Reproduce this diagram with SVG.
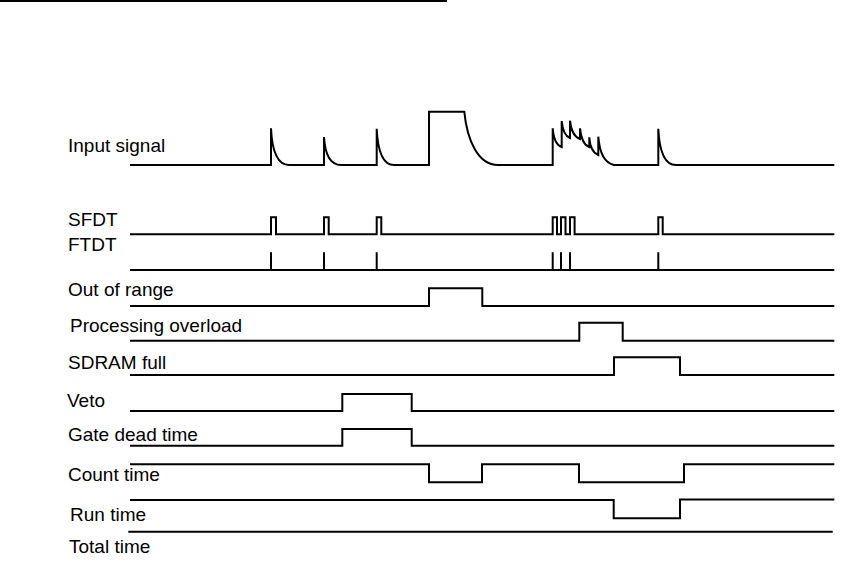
<svg xmlns="http://www.w3.org/2000/svg" width="850" height="567" viewBox="0 0 850 567">
<style>
.lbl{font-family:"Liberation Sans",Arial,sans-serif;font-size:19px;fill:#000}
.tr{fill:none;stroke:#000;stroke-width:2;stroke-linejoin:miter}
</style>
<rect width="850" height="567" fill="#fff"/>
<line x1="0" y1="1" x2="447" y2="1" stroke="#000" stroke-width="2"/>
<g id="labels">
<text class="lbl" x="68" y="152">Input signal</text>
<text class="lbl" x="68" y="226">SFDT</text>
<text class="lbl" x="68" y="251">FTDT</text>
<text class="lbl" x="68" y="296">Out of range</text>
<text class="lbl" x="70" y="332">Processing overload</text>
<text class="lbl" x="68" y="369">SDRAM full</text>
<text class="lbl" x="67" y="407">Veto</text>
<text class="lbl" x="68" y="441">Gate dead time</text>
<text class="lbl" x="68" y="481">Count time</text>
<text class="lbl" x="70" y="521">Run time</text>
<text class="lbl" x="69" y="553">Total time</text>
</g>
<g id="traces">
<g id="input-signal"><path class="tr" d="M130,165 H271 V128.3 C272,150 277,165 289,165 H324 V137 C325,153 329,165 341,165 H376.7 V128.7 C377.7,150 382,165 394,165 H429 V111.7 H464.3 C467,140 478,165 498,165 H552.7 V128.3 C553.5,138 556,145 561.7,147 V121 C562.5,130 565,136 570,138 V120.7 C571,130 574,137 580,139 V128.3 C581,138 584,145 589.3,147 V137.3 C590,147 593,153 598.3,155 V136.7 C599.5,152 604,163 614,165 H658.3 V128.7 C659.3,150 664,165 676,165 H834.3"/></g>
<g id="sfdt"><path class="tr" d="M130,234.3 H271 V217.3 H276 V234.3 H324 V217.3 H328.7 V234.3 H376.7 V217.3 H381.3 V234.3 H552.7 V217.3 H557 V234.3 H561 V217.3 H565.5 V234.3 H570 V217.3 H574.6 V234.3 H658.3 V217.3 H662.7 V234.3 H834.3"/></g>
<g id="ftdt"><path class="tr" d="M130,270 H834.3 M271,252.3 V270 M324,252.3 V270 M376.7,252.3 V270 M552.7,252.3 V270 M561,252.3 V270 M570,252.3 V270 M658.3,252.3 V270"/></g>
<g id="out-of-range"><path class="tr" d="M130,306 H429 V288.3 H482.3 V306 H834.3"/></g>
<g id="processing-overload"><path class="tr" d="M130,340.7 H579.3 V322.7 H622.7 V340.7 H834.3"/></g>
<g id="sdram-full"><path class="tr" d="M130,375 H614 V357.3 H680 V375 H834.3"/></g>
<g id="veto"><path class="tr" d="M130,411 H342.3 V394 H411.7 V411 H834.3"/></g>
<g id="gate-dead-time"><path class="tr" d="M130,445.7 H342.3 V429 H411.7 V445.7 H834.3"/></g>
<g id="count-time"><path class="tr" d="M130,464.3 H429 V482.3 H482 V464.3 H579 V482.3 H684 V464.3 H834.3"/></g>
<g id="run-time"><path class="tr" d="M130,500 H613.7 V518.3 H680 V499.5 H834.3"/></g>
<g id="total-time"><path class="tr" d="M128.3,531.7 H832.7"/></g>
</g>
</svg>
